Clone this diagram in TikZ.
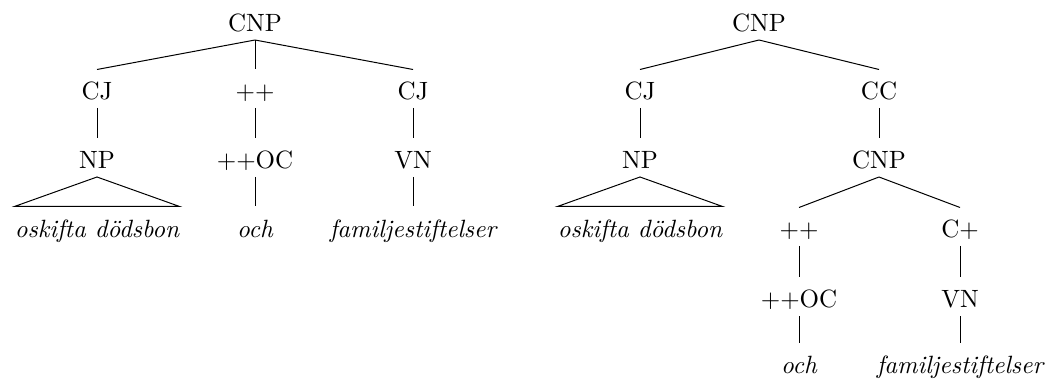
\documentclass[tikz,border=0pt]{standalone}
\begin{document}
\begin{tikzpicture}[x=0.4pt,y=-0.4pt,
  lab/.style={anchor=base,inner xsep=0pt,inner ysep=3pt,text height=9pt,text depth=0pt,font=\fontsize{10}{12}\selectfont},
  word/.style={lab,font=\fontsize{10}{12}\selectfont\itshape},
  br/.style={line width=0.4pt}]
\useasboundingbox (0,0) rectangle (1054,379);
% left tree
\node[lab] (l0) at (255,32) {CNP};
\node[lab] (l1) at (97,100) {CJ};
\node[lab] (l2) at (255,100) {++};
\node[lab] (l3) at (413,100) {CJ};
\node[lab] (l4) at (97,169) {NP};
\node[lab] (l5) at (255,169) {++OC};
\node[lab] (l6) at (413,169) {VN};
\node[word] (l7) at (97,237) {oskifta dödsbon};
\node[word] (l8) at (255,237) {och};
\node[word] (l9) at (413,237) {familjestiftelser};
\draw[br] (l0.south) -- (l1.north);
\draw[br] (l0.south) -- (l2.north);
\draw[br] (l0.south) -- (l3.north);
\draw[br] (l1.south) -- (l4.north);
\draw[br] (l2.south) -- (l5.north);
\draw[br] (l3.south) -- (l6.north);
\draw[br] (l4.south) -- (l7.north west) -- (l7.north east) -- cycle;
\draw[br] (l5.south) -- (l8.north);
\draw[br] (l6.south) -- (l9.north);
% right tree
\node[lab] (r0) at (759,32) {CNP};
\node[lab] (r1) at (640,100) {CJ};
\node[lab] (r2) at (879,100) {CC};
\node[lab] (r3) at (640,169) {NP};
\node[lab] (r4) at (879,169) {CNP};
\node[word] (r5) at (640,237) {oskifta dödsbon};
\node[lab] (r6) at (799,238) {++};
\node[lab] (r7) at (960,238) {C+};
\node[lab] (r8) at (799,308) {++OC};
\node[lab] (r9) at (960,308) {VN};
\node[word] (r10) at (799,373) {och};
\node[word] (r11) at (960,373) {familjestiftelser};
\draw[br] (r0.south) -- (r1.north);
\draw[br] (r0.south) -- (r2.north);
\draw[br] (r1.south) -- (r3.north);
\draw[br] (r2.south) -- (r4.north);
\draw[br] (r3.south) -- (r5.north west) -- (r5.north east) -- cycle;
\draw[br] (r4.south) -- (r6.north);
\draw[br] (r4.south) -- (r7.north);
\draw[br] (r6.south) -- (r8.north);
\draw[br] (r7.south) -- (r9.north);
\draw[br] (r8.south) -- (r10.north);
\draw[br] (r9.south) -- (r11.north);
\end{tikzpicture}
\end{document}
